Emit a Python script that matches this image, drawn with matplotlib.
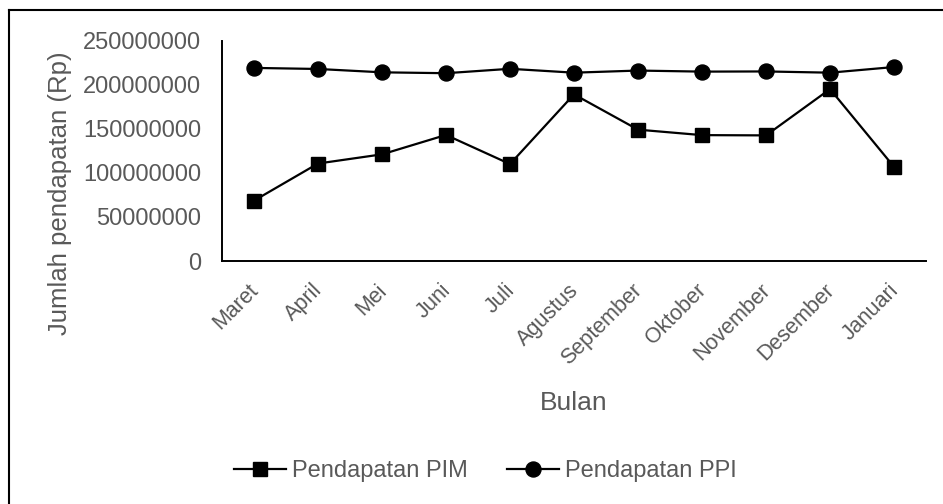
import matplotlib
matplotlib.use('Agg')
import matplotlib.pyplot as plt
import matplotlib.transforms as mtransforms
from matplotlib.lines import Line2D

plt.rcParams['font.family'] = ['Liberation Sans', 'DejaVu Sans']

bulan = ['Maret', 'April', 'Mei', 'Juni', 'Juli', 'Agustus', 'September',
         'Oktober', 'November', 'Desember', 'Januari']
pendapatan_pim = [68500000, 110600000, 121000000, 143000000, 110000000, 189000000,
                  149000000, 142800000, 142500000, 195000000, 106800000]
pendapatan_ppi = [219000000, 217800000, 214000000, 213000000, 218000000, 213600000,
                  216000000, 214800000, 215000000, 213600000, 220000000]
y_ticks = [0, 50000000, 100000000, 150000000, 200000000, 250000000]

grey = '#595959'

fig = plt.figure(figsize=(9.43, 5.04), dpi=100)
ax = fig.add_axes([0.2354, 0.482, 0.7466, 0.4375])

x = list(range(len(bulan)))
ax.plot(x, pendapatan_pim, color='black', linewidth=1.6, marker='s', markersize=10.5,
        label='Pendapatan PIM')
ax.plot(x, pendapatan_ppi, color='black', linewidth=1.6, marker='o', markersize=10.8,
        label='Pendapatan PPI')

ax.set_xlim(-0.5, len(bulan) - 0.5)
ax.set_ylim(0, 250000000)
ax.set_yticks(y_ticks)
ax.set_yticklabels([str(v) for v in y_ticks])
ax.set_xticks(x)
ax.set_xticklabels(bulan, rotation=45, ha='right', va='top', rotation_mode='anchor')
ax.tick_params(axis='both', length=0, labelcolor=grey)
ax.tick_params(axis='x', pad=13.5, labelsize=15.5)
ax.tick_params(axis='y', pad=15, labelsize=17)

# nudge rotated month labels a little to the left
shift = mtransforms.ScaledTranslation(-6 / 100, 0, fig.dpi_scale_trans)
for lbl in ax.get_xticklabels():
    lbl.set_transform(lbl.get_transform() + shift)

for s in ['top', 'right']:
    ax.spines[s].set_visible(False)
for s in ['left', 'bottom']:
    ax.spines[s].set_linewidth(1.4)
    ax.spines[s].set_color('black')

ax.set_xlabel('Bulan', fontsize=19, color=grey, va='center')
ax.xaxis.set_label_coords(0.5, -0.643)
ax.set_ylabel('Jumlah pendapatan (Rp)', fontsize=18.5, color=grey, va='center')
ax.yaxis.set_label_coords(-0.230, 0.31)

fig.legend(loc='center', bbox_to_anchor=(0.5149, 1 - 471 / 504), ncol=2, frameon=False,
           fontsize=17, labelcolor=grey, handlelength=2.2, handletextpad=0.25,
           columnspacing=1.65)

# outer frame (only left and top edges show)
fig.add_artist(Line2D([9 / 943, 9 / 943], [0, 1 - 10 / 504], color='black', linewidth=1.5,
                      transform=fig.transFigure))
fig.add_artist(Line2D([9 / 943, 1], [1 - 10 / 504, 1 - 10 / 504], color='black', linewidth=1.5,
                      transform=fig.transFigure))

fig.savefig('out.png', dpi=100)
